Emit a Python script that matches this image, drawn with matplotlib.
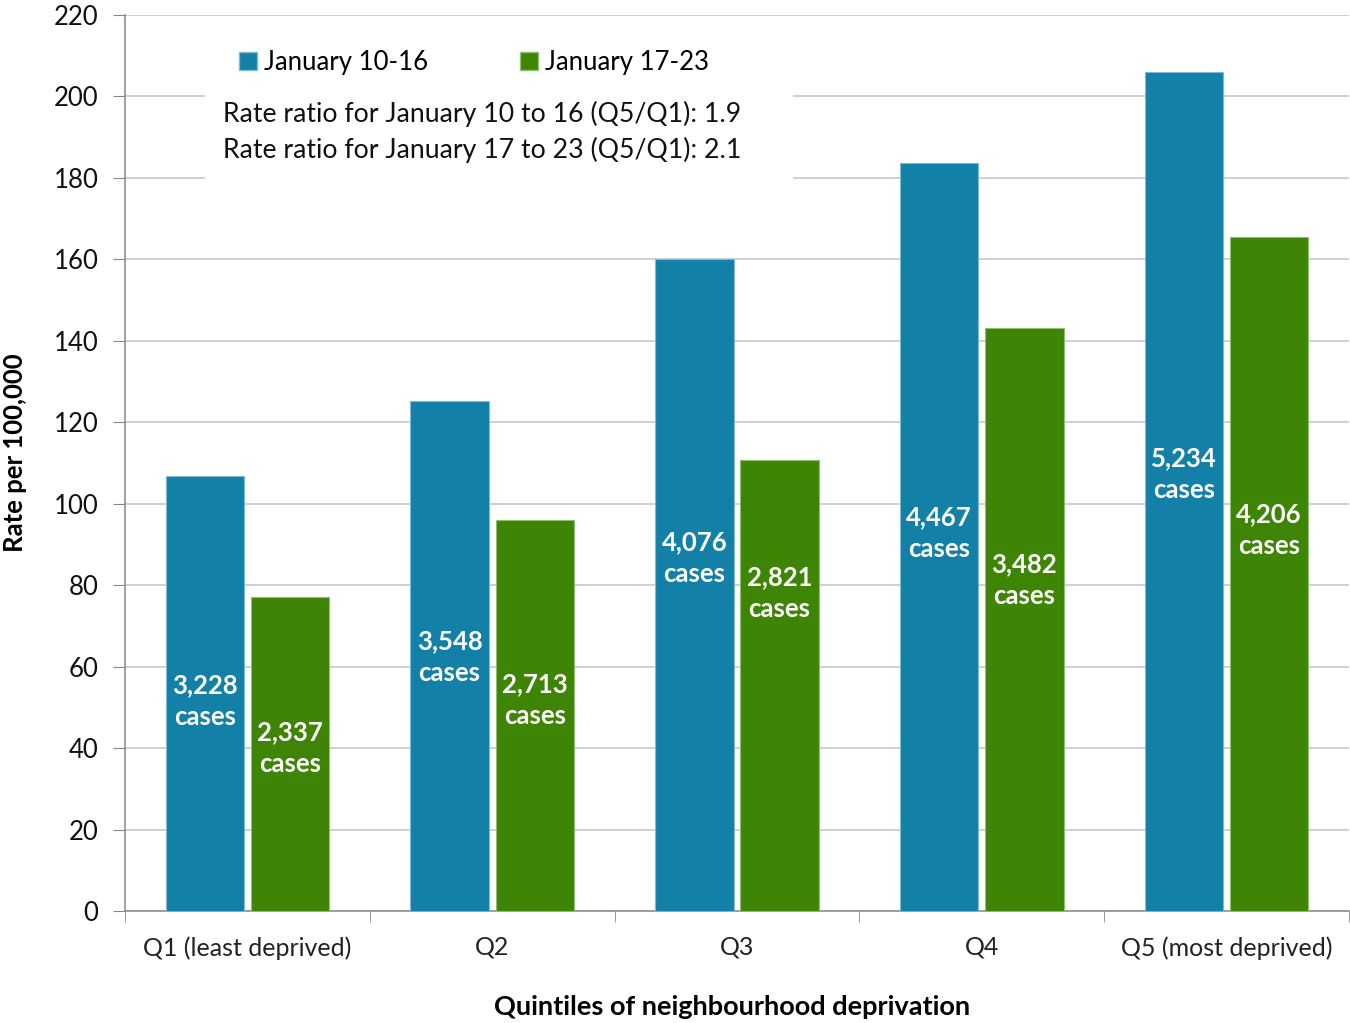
import matplotlib.pyplot as plt
import numpy as np
from matplotlib.patches import Rectangle, Patch

plt.rcParams['font.family'] = ['Lato', 'DejaVu Sans']

# datos del grafico
quintiles = ['Q1 (least deprived)', 'Q2', 'Q3', 'Q4', 'Q5 (most deprived)']
series_names = ['January 10-16', 'January 17-23']
rate_jan10 = [106.7, 125.3, 160.1, 183.7, 206.0]
rate_jan17 = [77.2, 95.9, 110.8, 143.2, 165.5]
cases_jan10 = ['3,228', '3,548', '4,076', '4,467', '5,234']
cases_jan17 = ['2,337', '2,713', '2,821', '3,482', '4,206']
ratio_lines = ['Rate ratio for January 10 to 16 (Q5/Q1): 1.9',
               'Rate ratio for January 17 to 23 (Q5/Q1): 2.1']

# altura (en unidades del eje) donde van las etiquetas de casos
label_y_jan10 = [51.6, 62.4, 86.7, 92.8, 107.3]
label_y_jan17 = [40.0, 51.8, 78.1, 81.3, 93.5]

blue = '#1380a8'
green = '#3f8505'
fs = 18.5

fig = plt.figure(figsize=(13.5, 10.23), dpi=100)
ax = fig.add_axes([125 / 1350, 112 / 1023, 1224 / 1350, 896 / 1023])

x = np.arange(len(quintiles))
width = 0.32
off = 0.174
b1 = ax.bar(x - off, rate_jan10, width, color=blue, edgecolor='#7fb8d8', linewidth=0.8, zorder=3)
b2 = ax.bar(x + off, rate_jan17, width, color=green, edgecolor='#8cc070', linewidth=0.8, zorder=3)

# etiquetas de casos dentro de las barras
for rects, labels, ys in [(b1, cases_jan10, label_y_jan10), (b2, cases_jan17, label_y_jan17)]:
    for rect, lab, yy in zip(rects, labels, ys):
        ax.text(rect.get_x() + rect.get_width() / 2, yy, lab + '\ncases',
                ha='center', va='center', color='white', fontsize=fs,
                fontweight='bold', linespacing=1.4, zorder=4)

ax.set_xlim(-0.5, 4.5)
ax.set_ylim(0, 220)
ax.set_yticks(np.arange(0, 221, 20))
ax.yaxis.grid(True, color='#c4c4c4', linewidth=1.1, zorder=0)
ax.set_axisbelow(True)

ax.set_xticks(x)
ax.set_xticklabels(quintiles, fontsize=18, color='#222222')
ax.set_xticks(np.arange(-0.5, 5, 1), minor=True)
ax.tick_params(axis='x', which='major', length=0, pad=18)
ax.tick_params(axis='x', which='minor', length=8, color='#888888')
ax.tick_params(axis='y', length=9, color='#888888', labelsize=fs, pad=10, labelcolor='#111111')

for s in ['top', 'right']:
    ax.spines[s].set_visible(False)
ax.spines['left'].set_color('#888888')
ax.spines['bottom'].set_color('#888888')
ax.spines['left'].set_linewidth(1.1)
ax.spines['bottom'].set_linewidth(1.1)

ax.set_ylabel('Rate per 100,000', fontsize=fs, fontweight='bold', va='center')
ax.yaxis.set_label_coords(-0.0899, 0.512)
ax.set_xlabel('Quintiles of neighbourhood deprivation', fontsize=19.5, fontweight='bold', va='center')
ax.xaxis.set_label_coords(0.496, -0.107)

# caja blanca detras de la leyenda y los ratios
ax.add_patch(Rectangle((80 / 1224, 728 / 896), 588 / 1224, 158 / 896, transform=ax.transAxes,
                       facecolor='white', edgecolor='none', zorder=2))

handles = [Patch(facecolor=blue, edgecolor='#7fb8d8'), Patch(facecolor=green, edgecolor='#8cc070')]
ax.legend(handles, series_names, loc='upper left', bbox_to_anchor=(104 / 1224, 1 - 25 / 896),
          ncol=2, frameon=False, fontsize=fs, handlelength=0.7, handleheight=0.7,
          handletextpad=0.25, columnspacing=3.6, borderaxespad=0)

for i, line in enumerate(ratio_lines):
    ax.text(98 / 1224, 1 - (99 + i * 36) / 896, line, transform=ax.transAxes,
            fontsize=19.2, va='center', ha='left', color='#111111', zorder=4)

fig.savefig('out.png', dpi=100)
